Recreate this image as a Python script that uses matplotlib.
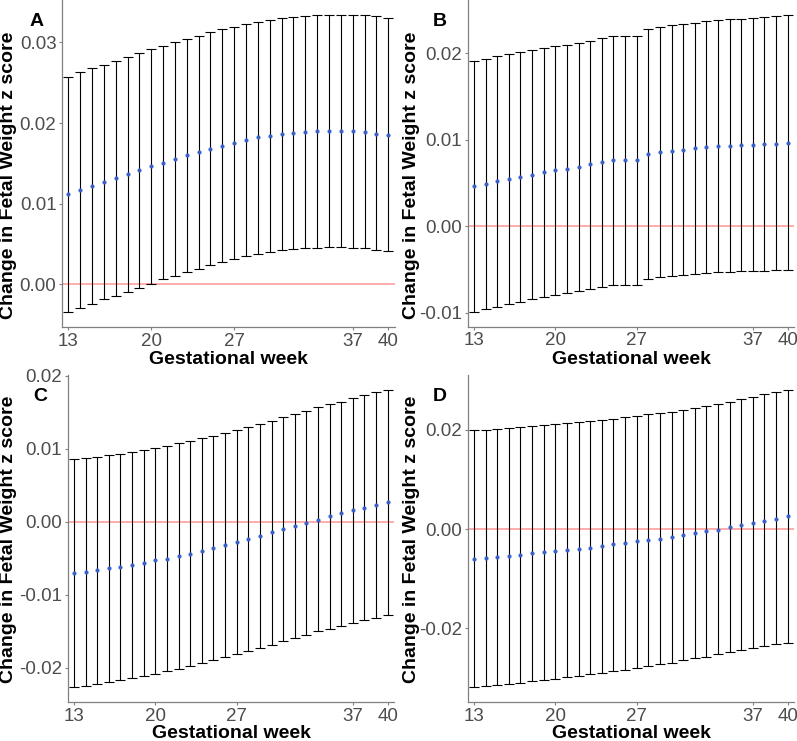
import numpy as np
import matplotlib
matplotlib.use("Agg")
import matplotlib.pyplot as plt

plt.rcParams['font.family'] = ['Liberation Sans', 'DejaVu Sans']

weeks = list(range(13, 41))
xticks = [13, 20, 27, 37, 40]

# Panel A
a_est = [0.01124, 0.01170, 0.01220, 0.01265, 0.01315, 0.01365, 0.01414, 0.01464, 0.01509, 0.01558,
         0.01604, 0.01645, 0.01682, 0.01720, 0.01757, 0.01790, 0.01824, 0.01844, 0.01865, 0.01877,
         0.01890, 0.01898, 0.01906, 0.01906, 0.01902, 0.01890, 0.01868, 0.01849]
a_hi = [0.02576, 0.02630, 0.02680, 0.02721, 0.02770, 0.02820, 0.02866, 0.02916, 0.02960, 0.03002,
        0.03047, 0.03084, 0.03126, 0.03164, 0.03196, 0.03226, 0.03258, 0.03283, 0.03300, 0.03320,
        0.03333, 0.03345, 0.03345, 0.03345, 0.03345, 0.03337, 0.03324, 0.03300]
a_lo = [-0.00344, -0.00294, -0.00244, -0.00186, -0.00141, -0.00092, -0.00042, 0.00008, 0.00062, 0.00103,
        0.00153, 0.00194, 0.00236, 0.00281, 0.00314, 0.00347, 0.00376, 0.00405, 0.00422, 0.00438,
        0.00447, 0.00455, 0.00459, 0.00459, 0.00455, 0.00447, 0.00430, 0.00413]

# Panel B
b_est = [0.00464, 0.00494, 0.00521, 0.00548, 0.00575, 0.00598, 0.00626, 0.00649, 0.00667, 0.00690,
         0.00718, 0.00741, 0.00768, 0.00768, 0.00768, 0.00837, 0.00857, 0.00872, 0.00887, 0.00907,
         0.00918, 0.00926, 0.00930, 0.00938, 0.00938, 0.00949, 0.00956, 0.00964]
b_hi = [0.01916, 0.01940, 0.01971, 0.01994, 0.02013, 0.02037, 0.02063, 0.02086, 0.02101, 0.02124,
        0.02148, 0.02179, 0.02205, 0.02205, 0.02205, 0.02279, 0.02302, 0.02326, 0.02337, 0.02356,
        0.02372, 0.02383, 0.02395, 0.02402, 0.02414, 0.02425, 0.02437, 0.02445]
b_lo = [-0.00990, -0.00959, -0.00929, -0.00901, -0.00874, -0.00840, -0.00820, -0.00793, -0.00770, -0.00747,
        -0.00724, -0.00697, -0.00674, -0.00674, -0.00674, -0.00605, -0.00589, -0.00570, -0.00559, -0.00547,
        -0.00539, -0.00531, -0.00524, -0.00520, -0.00516, -0.00512, -0.00508, -0.00508]

# Panel C
c_est = [-0.00706, -0.00684, -0.00661, -0.00638, -0.00616, -0.00592, -0.00565, -0.00528, -0.00506, -0.00469,
         -0.00435, -0.00402, -0.00361, -0.00320, -0.00279, -0.00236, -0.00195, -0.00144, -0.00103, -0.00053,
         -0.00016, 0.00029, 0.00075, 0.00117, 0.00158, 0.00193, 0.00230, 0.00267]
c_hi = [0.00861, 0.00875, 0.00893, 0.00912, 0.00934, 0.00957, 0.00985, 0.01012, 0.01039, 0.01076,
        0.01108, 0.01145, 0.01177, 0.01214, 0.01255, 0.01300, 0.01341, 0.01382, 0.01433, 0.01482,
        0.01519, 0.01570, 0.01611, 0.01647, 0.01694, 0.01735, 0.01776, 0.01807]
c_lo = [-0.02266, -0.02248, -0.02229, -0.02201, -0.02174, -0.02146, -0.02119, -0.02083, -0.02050, -0.02015,
        -0.01982, -0.01936, -0.01895, -0.01858, -0.01813, -0.01772, -0.01731, -0.01685, -0.01639, -0.01598,
        -0.01552, -0.01502, -0.01466, -0.01429, -0.01388, -0.01351, -0.01315, -0.01282]

# Panel D
d_est = [-0.00597, -0.00583, -0.00556, -0.00536, -0.00516, -0.00489, -0.00469, -0.00442, -0.00422, -0.00395,
         -0.00375, -0.00341, -0.00307, -0.00280, -0.00246, -0.00220, -0.00193, -0.00153, -0.00119, -0.00085,
         -0.00044, -0.00018, 0.00036, 0.00077, 0.00123, 0.00163, 0.00210, 0.00258]
d_hi = [0.01993, 0.02005, 0.02025, 0.02045, 0.02059, 0.02073, 0.02094, 0.02114, 0.02140, 0.02160,
        0.02180, 0.02200, 0.02227, 0.02255, 0.02281, 0.02315, 0.02342, 0.02368, 0.02402, 0.02436,
        0.02483, 0.02523, 0.02564, 0.02618, 0.02664, 0.02719, 0.02759, 0.02806]
d_lo = [-0.03185, -0.03165, -0.03138, -0.03118, -0.03098, -0.03070, -0.03038, -0.03017, -0.02983, -0.02957,
        -0.02929, -0.02896, -0.02862, -0.02836, -0.02802, -0.02761, -0.02727, -0.02695, -0.02646, -0.02606,
        -0.02574, -0.02525, -0.02485, -0.02438, -0.02404, -0.02358, -0.02324, -0.02297]

W, H = 797, 741
fig = plt.figure(figsize=(W / 100, H / 100), dpi=100)
fig.patch.set_facecolor('white')

panels = [
    dict(tag='A', est=a_est, hi=a_hi, lo=a_lo, box=(62, 0, 395, 327), ylim=(-0.0053, 0.03527),
         yticks=[0.0, 0.01, 0.02, 0.03], xlim=(12.47, 40.57), tagpos=(37, 22), ylab=(9, 175), xlab=(228, 359)),
    dict(tag='B', est=b_est, hi=b_hi, lo=b_lo, box=(467.7, 0, 794, 326.7), ylim=(-0.0116, 0.02618),
         yticks=[-0.01, 0.0, 0.01, 0.02], xlim=(12.46, 40.54), tagpos=(440, 22), ylab=(411, 175), xlab=(631, 359)),
    dict(tag='C', est=c_est, hi=c_hi, lo=c_lo, box=(67.7, 375, 394, 702.3), ylim=(-0.02475, 0.02013),
         yticks=[-0.02, -0.01, 0.0, 0.01, 0.02], xlim=(12.46, 40.54), tagpos=(40, 397), ylab=(9, 539), xlab=(231, 733)),
    dict(tag='D', est=d_est, hi=d_hi, lo=d_lo, box=(467.7, 375, 794, 702.3), ylim=(-0.03493, 0.03108),
         yticks=[-0.02, 0.0, 0.02], xlim=(12.46, 40.54), tagpos=(440, 397), ylab=(411, 539), xlab=(631, 733)),
]

spine_col = '#808080'
tick_col = '#4D4D4D'

for p in panels:
    l, t, r, b = p['box']
    ax = fig.add_axes([l / W, 1 - b / H, (r - l) / W, (b - t) / H])
    est = np.array(p['est'])
    hi = np.array(p['hi'])
    lo = np.array(p['lo'])
    ax.axhline(0, color='#FF9696', lw=1.1, zorder=1)
    ax.errorbar(weeks, est, yerr=[est - lo, hi - est], fmt='none', ecolor='black',
                elinewidth=0.8, capsize=3.7, capthick=0.8, zorder=2)
    ax.plot(weeks, est, 'o', color='#3A62C9', markersize=3.0, markeredgewidth=0, zorder=3)
    ax.set_xlim(*p['xlim'])
    ax.set_ylim(*p['ylim'])
    ax.set_xticks(xticks)
    ax.set_xticklabels([str(v) for v in xticks])
    ax.set_yticks(p['yticks'])
    ax.set_yticklabels(['%.2f' % v for v in p['yticks']])
    for s in ['top', 'right']:
        ax.spines[s].set_visible(False)
    for s in ['left', 'bottom']:
        ax.spines[s].set_color(spine_col)
        ax.spines[s].set_linewidth(0.9)
    ax.tick_params(axis='both', colors=spine_col, length=2.5, width=0.8, labelsize=13.5,
                   labelcolor=tick_col, pad=1.5)
    ax.set_facecolor('white')
    fig.text(p['tagpos'][0] / W, 1 - p['tagpos'][1] / H, p['tag'], fontsize=14, fontweight='bold',
             ha='center', va='center')
    fig.text(p['ylab'][0] / W, 1 - p['ylab'][1] / H, 'Change in Fetal Weight z score', fontsize=14,
             fontweight='bold', rotation=90, ha='center', va='center')
    fig.text(p['xlab'][0] / W, 1 - p['xlab'][1] / H, 'Gestational week', fontsize=14,
             fontweight='bold', ha='center', va='center')

fig.savefig('out.png', dpi=100)
